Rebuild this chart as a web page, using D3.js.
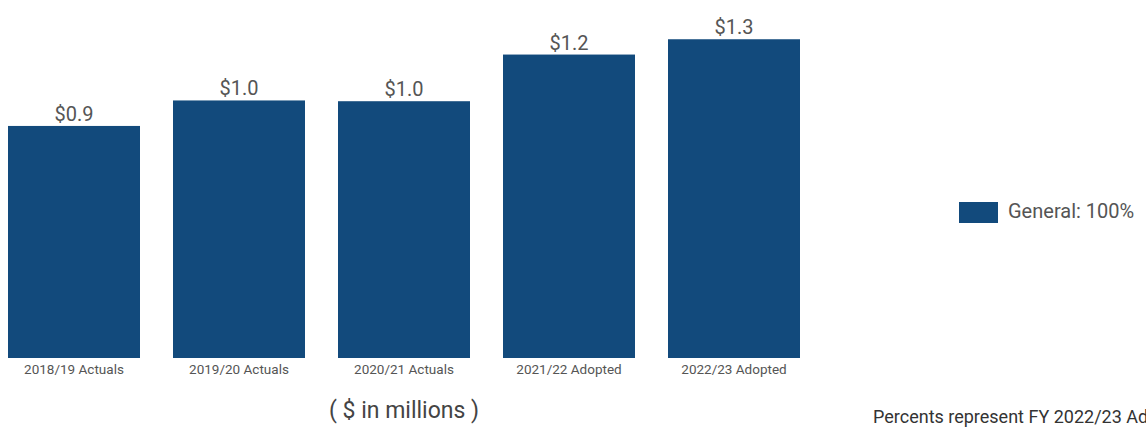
<!DOCTYPE html>
<html>
<head>
<meta charset="utf-8">
<script src="https://cdn.jsdelivr.net/npm/d3@7"></script>
<style>
  html, body { margin: 0; padding: 0; background: #fff; overflow: hidden; }
  text { font-family: Roboto, "Noto Sans", sans-serif; }
</style>
</head>
<body>
<div id="chart"></div>
<script>
// datos del gráfico
var years = ["2018/19 Actuals", "2019/20 Actuals", "2020/21 Actuals", "2021/22 Adopted", "2022/23 Adopted"];
var general = [0.91, 1.01, 1.007, 1.19, 1.25];
var legendLabels = ["General: 100%"];

var w = 1146;
var h = 428;

var svg = d3.select("#chart")
    .append("svg")
    .attr("width", w)
    .attr("height", h);

// escalas
var x = d3.scaleBand()
    .domain(years)
    .range([8, 800])
    .paddingInner(0.2)
    .paddingOuter(0);

var y = d3.scaleLinear()
    .domain([0, 1.4])
    .range([358, 1]);

var fmt = d3.format("$.1f");

// barras
svg.selectAll("rect.bar")
    .data(general)
    .enter()
    .append("rect")
    .attr("class", "bar")
    .attr("x", (d, i) => x(years[i]))
    .attr("y", d => y(d))
    .attr("width", x.bandwidth())
    .attr("height", d => y(0) - y(d))
    .attr("fill", "#124a7c");

// etiquetas de valor
svg.selectAll("text.val")
    .data(general)
    .enter()
    .append("text")
    .attr("class", "val")
    .attr("x", (d, i) => x(years[i]) + x.bandwidth() / 2)
    .attr("y", d => y(d) - 5)
    .attr("text-anchor", "middle")
    .attr("font-size", "20px")
    .attr("fill", "#555")
    .text(d => fmt(d));

// eje x (solo etiquetas)
var xAxis = svg.append("g")
    .attr("transform", "translate(0," + y(0) + ")")
    .call(d3.axisBottom(x).tickSize(0).tickPadding(6));
xAxis.select(".domain").remove();
xAxis.selectAll("text")
    .attr("font-size", "13.5px")
    .attr("fill", "#555")
    .style("font-family", "Roboto, sans-serif");

// unidades
svg.append("text")
    .attr("x", 404)
    .attr("y", 418)
    .attr("text-anchor", "middle")
    .attr("font-size", "23px")
    .attr("fill", "#444")
    .text("( $ in millions )");

// leyenda
var legend = svg.append("g").attr("transform", "translate(959,202)");
legend.selectAll("rect")
    .data(legendLabels)
    .enter()
    .append("rect")
    .attr("width", 39)
    .attr("height", 21)
    .attr("fill", "#124a7c");
legend.selectAll("text")
    .data(legendLabels)
    .enter()
    .append("text")
    .attr("x", 49)
    .attr("y", 16)
    .attr("font-size", "20px")
    .attr("fill", "#555")
    .text(d => d);

// nota (cortada en el borde, igual que en el original)
svg.append("text")
    .attr("x", 873)
    .attr("y", 423)
    .attr("font-size", "18px")
    .attr("fill", "#333")
    .text("Percents represent FY 2022/23 Adopted");
</script>
</body>
</html>
